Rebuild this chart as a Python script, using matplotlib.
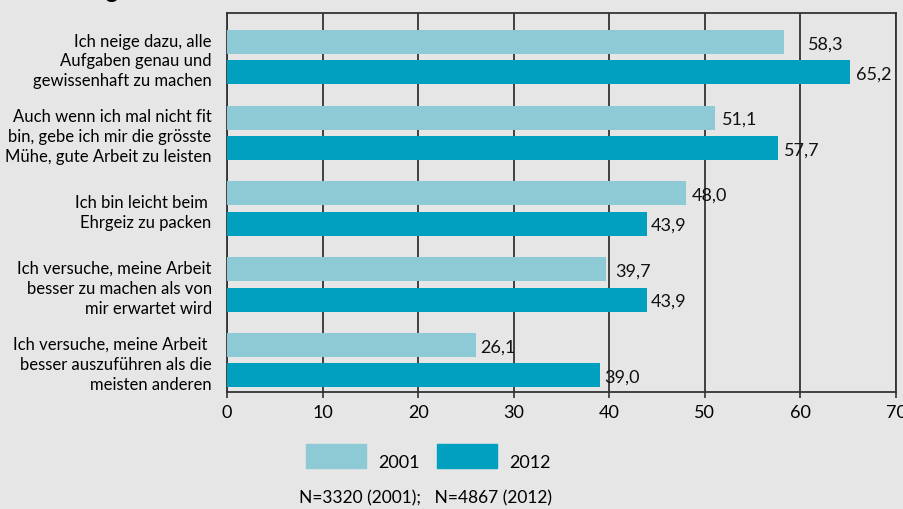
import matplotlib
matplotlib.use("Agg")
import matplotlib.pyplot as plt
from matplotlib.patches import Rectangle
import numpy as np

plt.rcParams['font.family'] = ['Lato', 'DejaVu Sans']

categories = [
    "Ich neige dazu, alle\nAufgaben genau und\ngewissenhaft zu machen",
    "Auch wenn ich mal nicht fit\nbin, gebe ich mir die grösste\nMühe, gute Arbeit zu leisten",
    "Ich bin leicht beim \nEhrgeiz zu packen",
    "Ich versuche, meine Arbeit\nbesser zu machen als von\nmir erwartet wird",
    "Ich versuche, meine Arbeit \nbesser auszuführen als die\nmeisten anderen",
]
values_2001 = [58.3, 51.1, 48.0, 39.7, 26.1]
values_2012 = [65.2, 57.7, 43.9, 43.9, 39.0]
years = ["2001", "2012"]
xticks = [0, 10, 20, 30, 40, 50, 60, 70]
footnote = "N=3320 (2001);   N=4867 (2012)"

bg = "#e6e6e6"
c2001 = "#8ec9d6"
c2012 = "#00a0be"
grid = "#333333"

fig = plt.figure(figsize=(9.04, 5.10), dpi=100, facecolor=bg)
ax = fig.add_axes([227/904, 1-393/510, (896-227)/904, (393-14)/510])
ax.set_facecolor(bg)

y = np.arange(len(categories))
h = 0.317
off = 0.2
b1 = ax.barh(y - off, values_2001, height=h, color=c2001, zorder=3)
b2 = ax.barh(y + off, values_2012, height=h, color=c2012, zorder=3)

# label gaps in points (some labels sit past a gridline)
pads_2001 = [17, 5, 4, 6, 3]
pads_2012 = [4, 4, 3, 3, 3]
for bars, vals, pads in [(b1, values_2001, pads_2001), (b2, values_2012, pads_2012)]:
    for bar, v, p in zip(bars, vals, pads):
        ax.annotate(f"{v:.1f}".replace(".", ","),
                    (v, bar.get_y() + bar.get_height()/2),
                    xytext=(p, -1), textcoords="offset points",
                    va="center", ha="left", fontsize=13, color="#111111", zorder=4)

ax.set_xlim(0, 70)
ax.set_ylim(4.42, -0.58)
ax.set_xticks(xticks)
ax.set_xticklabels([str(t) for t in xticks], fontsize=13)
ax.set_yticks(y)
ax.set_yticklabels(categories, fontsize=12, linespacing=1.3)
ax.tick_params(axis="y", length=0, pad=11)
ax.tick_params(axis="x", length=4, width=1.2, color=grid, pad=5)
ax.xaxis.grid(True, color=grid, linewidth=1.3, zorder=1)
for s in ax.spines.values():
    s.set_color(grid)
    s.set_linewidth(1.3)

# legend
for i, (lab, col) in enumerate(zip(years, [c2001, c2012])):
    x0 = 306 + i * 131
    fig.add_artist(Rectangle((x0/904, 1-469/510), 60/904, 24/510,
                             transform=fig.transFigure, color=col))
    fig.text((x0 + 72)/904, 1-463/510, lab, fontsize=13, va="center", ha="left")

fig.text(426/904, 1-498/510, footnote, fontsize=12.5, va="center", ha="center")

# clipped heading at top
fig.text(118/904, 1+2/510, "Leistung", fontsize=17, fontweight="bold",
         ha="right", va="baseline")

fig.savefig("out.png", dpi=100, facecolor=bg)
